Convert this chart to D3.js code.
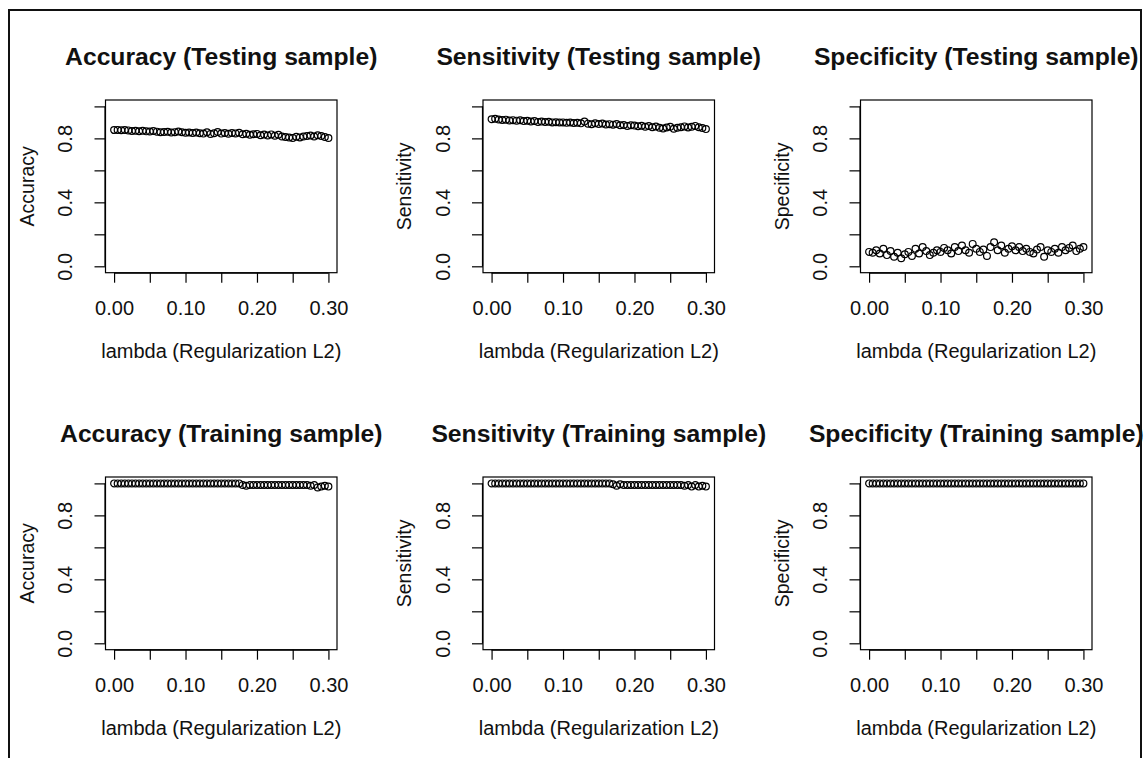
<!DOCTYPE html>
<html><head><meta charset="utf-8">
<script src="https://cdn.jsdelivr.net/npm/d3@7"></script>
<style>body{margin:0;background:#fff}svg{display:block}</style>
</head><body>
<svg id="c" width="1145" height="758"></svg>
<script>
// ---- data ----
const lambda = [0,0.005,0.01,0.015,0.02,0.025,0.03,0.035,0.04,0.045,0.05,0.055,0.06,0.065,0.07,0.075,0.08,0.085,0.09,0.095,0.1,0.105,0.11,0.115,0.12,0.125,0.13,0.135,0.14,0.145,0.15,0.155,0.16,0.165,0.17,0.175,0.18,0.185,0.19,0.195,0.2,0.205,0.21,0.215,0.22,0.225,0.23,0.235,0.24,0.245,0.25,0.255,0.26,0.265,0.27,0.275,0.28,0.285,0.29,0.295,0.3];
const accuracyTest = [0.852,0.853,0.851,0.852,0.850,0.846,0.848,0.845,0.847,0.844,0.843,0.846,0.842,0.838,0.840,0.841,0.836,0.839,0.843,0.838,0.835,0.837,0.834,0.836,0.832,0.830,0.838,0.828,0.832,0.840,0.830,0.834,0.829,0.833,0.831,0.835,0.826,0.829,0.822,0.826,0.828,0.820,0.824,0.818,0.825,0.816,0.822,0.812,0.808,0.805,0.803,0.810,0.806,0.812,0.815,0.818,0.812,0.820,0.815,0.808,0.802];
const sensitivityTest = [0.920,0.922,0.918,0.915,0.917,0.912,0.914,0.911,0.913,0.908,0.910,0.906,0.909,0.903,0.905,0.902,0.904,0.900,0.901,0.899,0.900,0.897,0.899,0.896,0.898,0.894,0.905,0.892,0.888,0.895,0.890,0.893,0.887,0.889,0.886,0.890,0.882,0.884,0.878,0.882,0.880,0.876,0.879,0.873,0.877,0.870,0.874,0.866,0.862,0.868,0.872,0.860,0.866,0.870,0.875,0.868,0.872,0.878,0.870,0.865,0.858];
const specificityTest = [0.09,0.085,0.10,0.08,0.11,0.07,0.095,0.06,0.085,0.05,0.075,0.09,0.065,0.11,0.08,0.12,0.095,0.07,0.085,0.10,0.09,0.115,0.10,0.08,0.12,0.095,0.13,0.10,0.085,0.14,0.11,0.09,0.105,0.065,0.12,0.15,0.10,0.13,0.085,0.11,0.125,0.10,0.12,0.095,0.11,0.09,0.08,0.105,0.12,0.06,0.10,0.09,0.11,0.085,0.12,0.10,0.115,0.13,0.095,0.11,0.12];
const accuracyTrain = [1,1,1,1,1,1,1,1,1,1,1,1,1,1,1,1,1,1,1,1,1,1,1,1,1,1,1,1,1,1,1,1,1,1,1,1,0.99,0.985,0.99,0.99,0.99,0.99,0.99,0.99,0.99,0.99,0.99,0.99,0.99,0.99,0.99,0.99,0.99,0.99,0.99,0.985,0.99,0.975,0.98,0.985,0.98];
const sensitivityTrain = [1,1,1,1,1,1,1,1,1,1,1,1,1,1,1,1,1,1,1,1,1,1,1,1,1,1,1,1,1,1,1,1,1,1,0.995,0.985,0.995,0.99,0.99,0.99,0.99,0.99,0.99,0.99,0.99,0.99,0.99,0.99,0.99,0.99,0.99,0.99,0.99,0.99,0.985,0.99,0.98,0.99,0.98,0.985,0.98];
const specificityTrain = [1,1,1,1,1,1,1,1,1,1,1,1,1,1,1,1,1,1,1,1,1,1,1,1,1,1,1,1,1,1,1,1,1,1,1,1,1,1,1,1,1,1,1,1,1,1,1,1,1,1,1,1,1,1,1,1,1,1,1,1,1];
const titles = ["Accuracy (Testing sample)","Sensitivity (Testing sample)","Specificity (Testing sample)","Accuracy (Training sample)","Sensitivity (Training sample)","Specificity (Training sample)"];
const yLabels = ["Accuracy","Sensitivity","Specificity","Accuracy","Sensitivity","Specificity"];
const xLabel = "lambda (Regularization L2)";
const xTicks = [0,0.05,0.1,0.15,0.2,0.25,0.3];
const xTickLabels = ["0.00","","0.10","","0.20","","0.30"];
const yTicks = [0,0.2,0.4,0.6,0.8,1.0];
const yTickLabels = ["0.0","","0.4","","0.8",""];
const series = [accuracyTest,sensitivityTest,specificityTest,accuracyTrain,sensitivityTrain,specificityTrain];

// ---- drawing ----
const svg = d3.select("#c");
const font = "'Liberation Sans', Arial, sans-serif";
svg.append("rect").attr("x",9).attr("y",10).attr("width",1132).attr("height",770)
  .attr("fill","none").attr("stroke","#111").attr("stroke-width",2);

const boxW = 231.5, boxH = 172.7;
series.forEach((vals,i)=>{
  const col = i%3, row = Math.floor(i/3);
  const ox = 105.5 + col*377.5, oy = 100 + row*377;
  const g = svg.append("g").attr("transform",`translate(${ox},${oy})`);
  const x = d3.scaleLinear().domain([-0.012,0.312]).range([0,boxW]);
  const y = d3.scaleLinear().domain([-0.04,1.04]).range([boxH,0]);
  g.append("rect").attr("width",boxW).attr("height",boxH).attr("fill","none").attr("stroke","#000").attr("stroke-width",1.2);
  const xa = g.append("g").attr("transform",`translate(0,${boxH})`)
    .call(d3.axisBottom(x).tickValues(xTicks).tickSize(10).tickPadding(18).tickFormat((d,k)=>xTickLabels[k]));
  xa.select(".domain").attr("d",`M${x(0)},0.5H${x(0.3)}`).attr("stroke","#000").attr("stroke-width",1.2);
  xa.selectAll("line").attr("stroke","#000").attr("stroke-width",1.2);
  xa.selectAll("text").attr("font-family",font).attr("font-size",20).attr("fill","#111");
  const ya = g.append("g")
    .call(d3.axisLeft(y).tickValues(yTicks).tickSize(11).tickFormat((d,k)=>yTickLabels[k]));
  ya.select(".domain").attr("d",`M-0.5,${y(0)}V${y(1)}`).attr("stroke","#000").attr("stroke-width",1.2);
  ya.selectAll("line").attr("stroke","#000").attr("stroke-width",1.2);
  ya.selectAll(".tick text").attr("font-family",font).attr("font-size",20).attr("fill","#111")
    .attr("x",0).attr("y",0).attr("dy",0).attr("text-anchor","middle")
    .attr("transform","translate(-33.5,0) rotate(-90)");
  g.append("g").selectAll("circle").data(vals).join("circle")
    .attr("cx",(d,k)=>x(lambda[k])).attr("cy",d=>y(d)).attr("r",3.4)
    .attr("fill","none").attr("stroke","#000").attr("stroke-width",1.2);
  g.append("text").attr("x",boxW/2).attr("y",-35).attr("text-anchor","middle")
    .attr("font-family",font).attr("font-weight","bold").attr("font-size",24.7).attr("fill","#111").text(titles[i]);
  g.append("text").attr("x",boxW/2).attr("y",258).attr("text-anchor","middle")
    .attr("font-family",font).attr("font-size",20).attr("fill","#111").text(xLabel);
  g.append("text").attr("transform",`translate(-72,${boxH/2}) rotate(-90)`).attr("text-anchor","middle")
    .attr("font-family",font).attr("font-size",19.5).attr("fill","#111").text(yLabels[i]);
});
</script>
</body></html>
